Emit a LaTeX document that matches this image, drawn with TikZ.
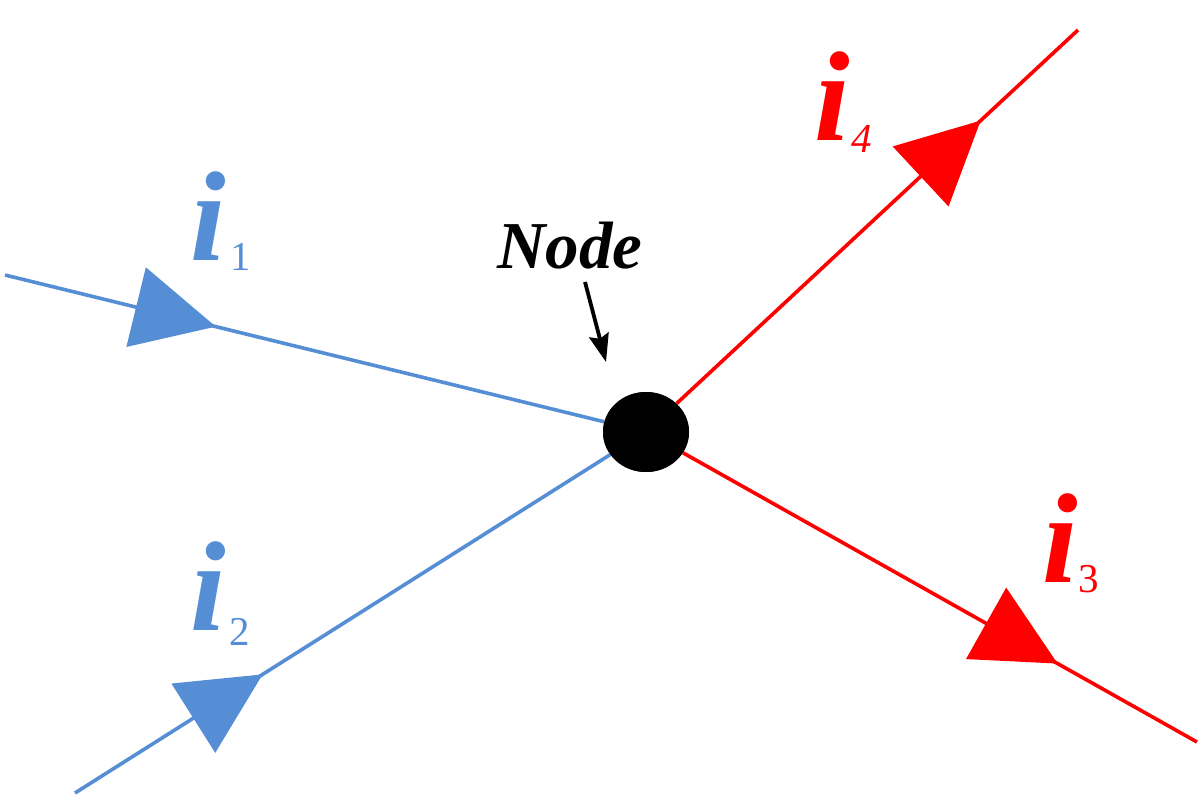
\documentclass[tikz,border=0pt]{standalone}
\usepackage{fontspec}
\setmainfont{Liberation Serif}
\usetikzlibrary{arrows.meta,decorations.markings,shapes.geometric}
\definecolor{cblue}{RGB}{85,142,213}
\definecolor{cred}{RGB}{255,0,0}
\tikzset{
  wire/.style={line width=3.6pt},
  headfwd/.style={postaction={decorate,decoration={markings,mark=at position #1 with {\fill (0pt,0pt) -- (-82pt,41pt) -- (-82pt,-41pt) -- cycle;}}}},
  headback/.style={postaction={decorate,decoration={markings,mark=at position #1 with {\fill (0pt,0pt) -- (82pt,41pt) -- (82pt,-41pt) -- cycle;}}}},
  curlabel/.style={inner sep=0pt,anchor=base west,font=\fontsize{128}{128}\selectfont\bfseries\itshape},
  sublabel/.style={inner sep=0pt,anchor=base west,font=\fontsize{41}{41}\selectfont},
}
\begin{document}
\begin{tikzpicture}[x=1pt,y=-1pt]
\useasboundingbox (0,0) rectangle (1200,796);
\node[ellipse,fill=black,minimum width=86pt,minimum height=80pt,inner sep=0pt] (n) at (646,432) {};
\coordinate (e1) at (5,275);
\coordinate (e2) at (75,793);
\coordinate (e4) at (1078,30);
\coordinate (e3) at (1197,742);
\draw[wire,cblue,fill=cblue,headfwd=217pt] (e1) -- (n);
\draw[wire,cblue,fill=cblue,headfwd=222pt] (e2) -- (n);
\draw[wire,cred,fill=cred,headback=133pt] (e4) -- (n);
\draw[wire,cred,fill=cred,headback=160pt] (e3) -- (n);
\node[ellipse,fill=black,minimum width=86pt,minimum height=80pt,inner sep=0pt] at (n) {};
% labels
\node[curlabel,text=cblue] (l1) at (190,260) {i};
\node[sublabel,text=cblue] (s1) at (230,270) {1};
\node[curlabel,text=cblue] (l2) at (190,630) {i};
\node[sublabel,text=cblue] (s2) at (229,645) {2};
\node[curlabel,text=cred] (l4) at (814,140) {i};
\node[sublabel,text=cred,font=\fontsize{41}{41}\selectfont\itshape] (s4) at (851,152) {4};
\node[curlabel,text=cred] (l3) at (1042,582) {i};
\node[sublabel,text=cred] (s3) at (1078,592) {3};
\node[inner sep=0pt,anchor=base west,font=\fontsize{67}{67}\selectfont\bfseries\itshape] (t) at (497,268) {Node};
\coordinate (a0) at (585,282);
\coordinate (a1) at (606,362);
\draw[line width=3.8pt,-{Stealth[length=28pt,width=20pt,inset=4pt]}] (a0) -- (a1);
\end{tikzpicture}
\end{document}
